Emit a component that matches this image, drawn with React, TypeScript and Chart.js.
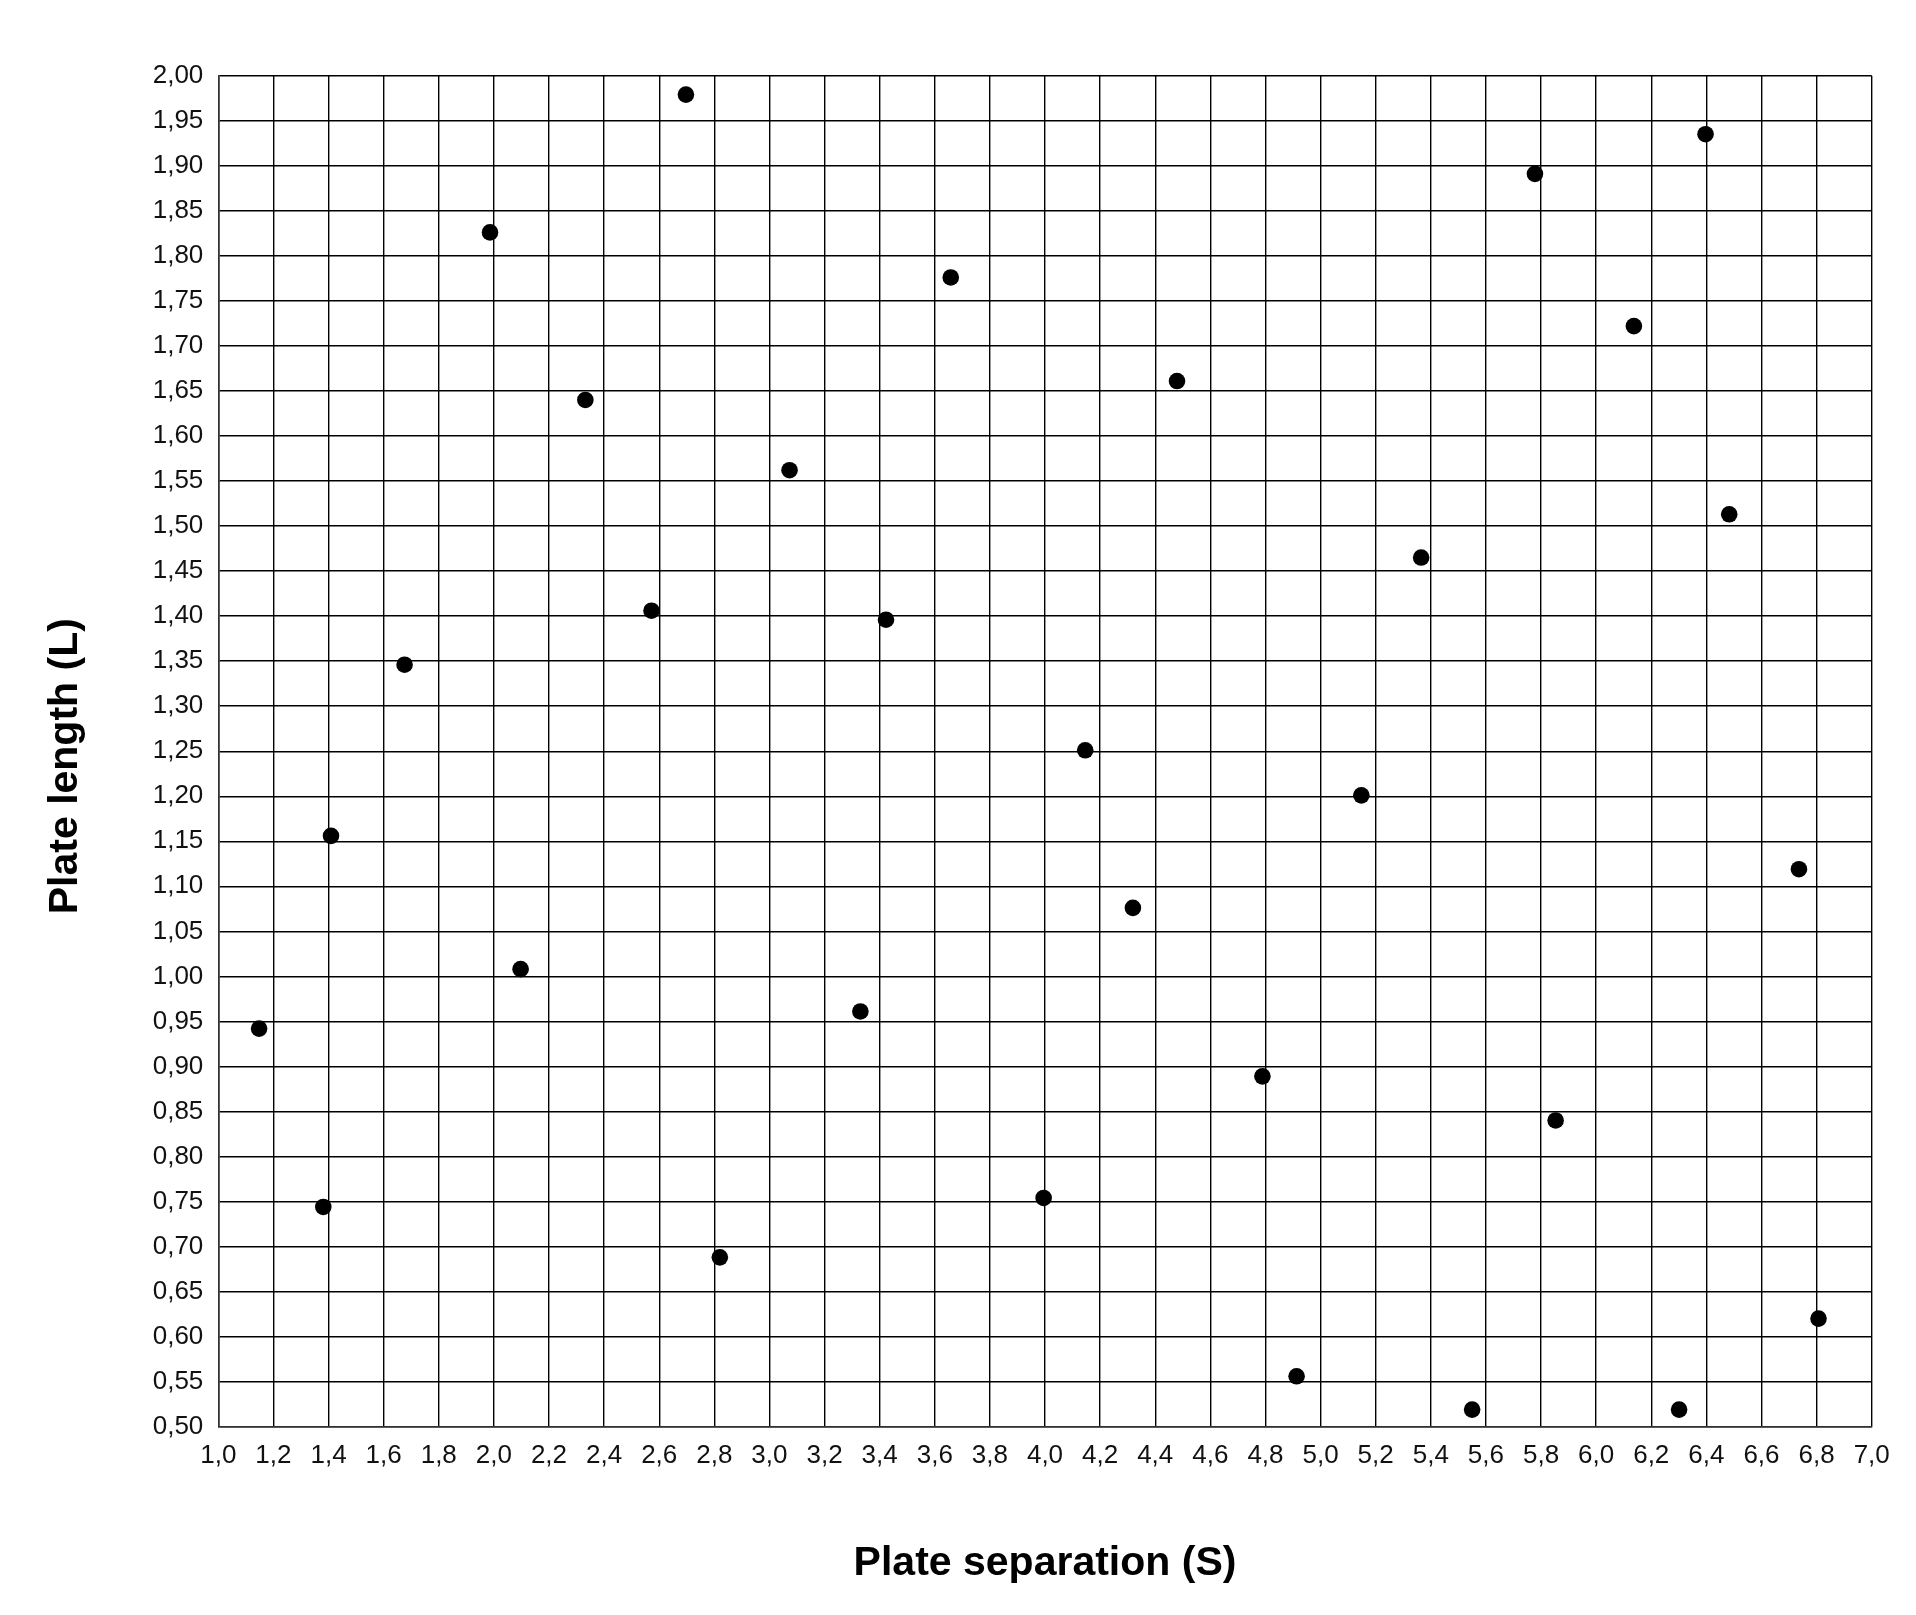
import React, { useEffect, useRef } from "react";
import { Chart, registerables } from "chart.js";

Chart.register(...registerables);

const sepValues = [
  1.148, 1.381, 1.409, 1.676, 1.986, 2.097, 2.332, 2.572, 2.697, 2.82,
  3.073, 3.33, 3.423, 3.658, 3.995, 4.146, 4.319, 4.479, 4.789, 4.913,
  5.148, 5.365, 5.55, 5.778, 5.853, 6.137, 6.301, 6.397, 6.483, 6.736, 6.807,
];
const lengthValues = [
  0.942, 0.744, 1.156, 1.346, 1.826, 1.008, 1.64, 1.406, 1.979, 0.688,
  1.562, 0.961, 1.396, 1.776, 0.754, 1.251, 1.076, 1.661, 0.889, 0.556,
  1.201, 1.465, 0.519, 1.891, 0.84, 1.722, 0.519, 1.935, 1.513, 1.119, 0.62,
];
const xTitle = "Plate separation (S)";
const yTitle = "Plate length (L)";
const xMin = 1.0, xMax = 7.0, xStep = 0.2;
const yMin = 0.5, yMax = 2.0, yStep = 0.05;

const FONT = "'Liberation Sans', Arial, sans-serif";

const titlePlugin = {
  id: "axisTitles",
  afterDraw(chart: any) {
    const { ctx, chartArea } = chart;
    ctx.save();
    ctx.fillStyle = "#000";
    ctx.font = `bold 41px ${FONT}`;
    ctx.textAlign = "center";
    ctx.textBaseline = "alphabetic";
    const cx = (chartArea.left + chartArea.right) / 2;
    ctx.fillText(xTitle, cx, chartArea.bottom + 148);
    const cy = (chartArea.top + chartArea.bottom) / 2 + 15;
    ctx.translate(chartArea.left - 141, cy);
    ctx.rotate(-Math.PI / 2);
    ctx.fillText(yTitle, 0, 0);
    ctx.restore();
  },
};

export default function App() {
  const ref = useRef<HTMLCanvasElement | null>(null);
  useEffect(() => {
    if (!ref.current) return;
    const data = sepValues.map((x, i) => ({ x, y: lengthValues[i] }));
    const chart = new Chart(ref.current, {
      type: "scatter",
      data: {
        datasets: [
          {
            data,
            backgroundColor: "#000",
            borderColor: "#000",
            borderWidth: 0,
            pointRadius: 8.3,
            pointHoverRadius: 8.3,
          },
        ],
      },
      options: {
        responsive: true,
        maintainAspectRatio: false,
        animation: false,
        events: [],
        layout: { padding: { top: 67.7, right: 36.3, left: 0, bottom: 0 } },
        plugins: { legend: { display: false }, tooltip: { enabled: false } },
        scales: {
          x: {
            type: "linear",
            min: xMin,
            max: xMax,
            afterFit: (s: any) => {
              s.height = 180.3;
            },
            grid: { color: "#000", lineWidth: 1.4, drawTicks: false },
            border: { color: "#333", width: 1.6 },
            ticks: {
              stepSize: xStep,
              autoSkip: false,
              maxRotation: 0,
              padding: 14,
              color: "#111",
              font: { family: FONT, size: 26 },
              callback: (v: any) => Number(v).toFixed(1).replace(".", ","),
            },
          },
          y: {
            type: "linear",
            min: yMin,
            max: yMax,
            afterFit: (s: any) => {
              s.width = 210.3;
            },
            grid: { color: "#000", lineWidth: 1.4, drawTicks: false },
            border: { color: "#333", width: 1.6 },
            ticks: {
              stepSize: yStep,
              autoSkip: false,
              padding: 15,
              color: "#111",
              font: { family: FONT, size: 26 },
              callback: (v: any) => Number(v).toFixed(2).replace(".", ","),
            },
          },
        },
      },
      plugins: [titlePlugin],
    });
    return () => chart.destroy();
  }, []);
  return (
    <div style={{ width: 1900, height: 1599, position: "relative" }}>
      <canvas ref={ref} />
    </div>
  );
}
